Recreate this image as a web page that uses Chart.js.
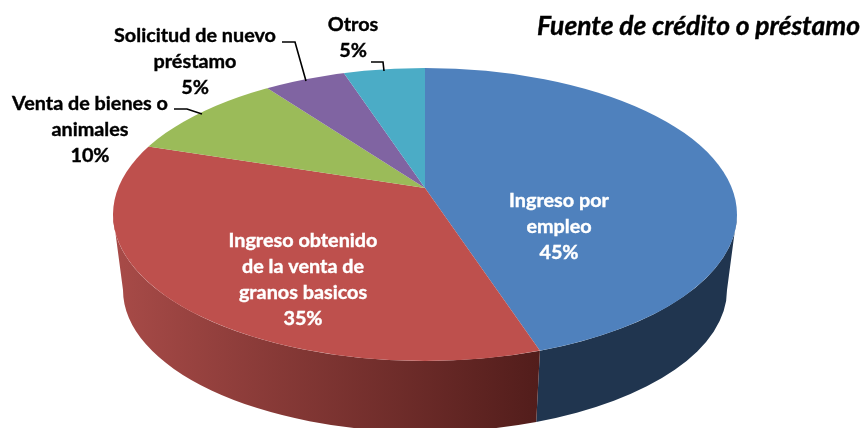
<!DOCTYPE html>
<html>
<head>
<meta charset="utf-8">
<style>
  html, body { margin: 0; padding: 0; background: #fff; }
  canvas { display: block; filter: blur(0.4px); }
</style>
<script src="https://cdn.jsdelivr.net/npm/chart.js@4/dist/chart.umd.js"></script>
</head>
<body>
<canvas id="PieChart" width="864" height="428"></canvas>
<script>
// data
const chartTitle = 'Fuente de crédito o préstamo';
const categories = ['Ingreso por empleo', 'Ingreso obtenido de la venta de granos basicos', 'Venta de bienes o animales', 'Solicitud de nuevo préstamo', 'Otros'];
const values = [45, 35, 10, 5, 5];
const labelLines = [
    ['Ingreso por', 'empleo'],
    ['Ingreso obtenido', 'de la venta de', 'granos basicos'],
    ['Venta de bienes o', 'animales'],
    ['Solicitud de nuevo', 'préstamo'],
    ['Otros']
];

// colours
const sliceColors = ['#4f81bd', '#be504d', '#9bbb59', '#8064a2', '#4bacc6'];
const sideColors = [['#1e3048', '#20354f'], ['#a84b48', '#521d1b'], ['#5d7035', '#5d7035'], ['#4c3c61', '#4c3c61'], ['#2d6776', '#2d6776']];
const labelColors = ['#fff', '#fff', '#000', '#000', '#000'];

// page layout of the labels (centre x, first baseline y)
const labelX = [559, 303, 90, 195, 353];
const labelY = [207, 247, 110, 42, 31];
const lineHeight = 26;
const leaders = [
    null,
    null,
    [[174, 109], [187, 109], [202, 114]],
    [[282, 42], [295, 42], [306, 81]],
    [[371, 62], [383, 62], [384, 71]]
];

// the tilted disc: top face, bottom face, and how much the slices get squashed
const topFace = {x: 425, y: 214.5, rx: 312, ry: 146.5};
const bottomFace = {x: 425, y: 290, rx: 302, ry: 142};
const squash = 0.46;

// where a slice edge leaving the apex hits the top face, as an ellipse angle
const edgeToEllipse = (apex, angle) => {
    const dx = Math.cos(angle) / topFace.rx;
    const dy = squash * Math.sin(angle) / topFace.ry;
    const oy = (apex.y - topFace.y) / topFace.ry;
    const a = dx * dx + dy * dy;
    const b = 2 * oy * dy;
    const c = oy * oy - 1;
    const s = (-b + Math.sqrt(b * b - 4 * a * c)) / (2 * a);
    return Math.atan2(oy + s * dy, s * dx);
};

const pie3d = {
    id: 'pie3d',
    beforeDatasetDraw(chart) {
        const ctx = chart.ctx;
        const arcs = chart.getDatasetMeta(0).data;
        ctx.save();

        // side wall, only where a slice reaches the front half of the disc
        arcs.forEach((arc, i) => {
            let from = edgeToEllipse(arc, arc.startAngle);
            let to = edgeToEllipse(arc, arc.endAngle);
            if (to < from) to += Math.PI * 2;
            [0, Math.PI * 2].forEach(shift => {
                const t0 = Math.max(from, shift);
                const t1 = Math.min(to, shift + Math.PI);
                if (t1 <= t0) return;
                const grad = ctx.createLinearGradient(topFace.x - topFace.rx, 0, 540, 0);
                grad.addColorStop(0, sideColors[i][0]);
                grad.addColorStop(1, sideColors[i][1]);
                ctx.fillStyle = grad;
                ctx.beginPath();
                ctx.ellipse(topFace.x, topFace.y, topFace.rx, topFace.ry, 0, t0, t1);
                ctx.ellipse(bottomFace.x, bottomFace.y, bottomFace.rx, bottomFace.ry, 0, t1, t0, true);
                ctx.closePath();
                ctx.fill();
            });
        });

        // top face: the library's arcs, flattened and cut to the ellipse
        const apex = arcs[0];
        ctx.beginPath();
        ctx.ellipse(topFace.x, topFace.y, topFace.rx, topFace.ry, 0, 0, Math.PI * 2);
        ctx.clip();
        ctx.translate(apex.x, apex.y);
        ctx.scale(1, squash);
        ctx.translate(-apex.x, -apex.y);
    },
    afterDatasetDraw(chart) {
        chart.ctx.restore();
    },
    afterDraw(chart) {
        const ctx = chart.ctx;
        ctx.save();

        ctx.font = 'italic 700 26.4px Lato';
        ctx.fillStyle = '#000';
        ctx.strokeStyle = '#000';
        ctx.lineWidth = 0.4;
        ctx.textAlign = 'right';
        ctx.fillText(chartTitle, 860, 35);
        ctx.strokeText(chartTitle, 860, 35);

        ctx.font = '700 19.8px Lato';
        ctx.textAlign = 'center';
        categories.forEach((name, i) => {
            ctx.fillStyle = labelColors[i];
            ctx.strokeStyle = labelColors[i];
            ctx.lineWidth = 0.4;
            const lines = labelLines[i].concat(values[i] + '%');
            lines.forEach((line, n) => {
                ctx.fillText(line, labelX[i], labelY[i] + n * lineHeight);
                ctx.strokeText(line, labelX[i], labelY[i] + n * lineHeight);
            });
            if (leaders[i]) {
                ctx.strokeStyle = '#000';
                ctx.lineWidth = 1.6;
                ctx.beginPath();
                leaders[i].forEach((p, n) => n ? ctx.lineTo(p[0], p[1]) : ctx.moveTo(p[0], p[1]));
                ctx.stroke();
            }
        });
        ctx.restore();
    }
};

new Chart(document.getElementById('PieChart'), {
    type: 'pie',
    data: {
        labels: categories,
        datasets: [{
            data: values,
            backgroundColor: sliceColors,
            borderWidth: 0,
            radius: 420,
            clip: false
        }]
    },
    options: {
        responsive: false,
        animation: false,
        layout: {padding: {left: 0, right: 14, top: 0, bottom: 52}},
        plugins: {legend: {display: false}, tooltip: {enabled: false}}
    },
    plugins: [pie3d]
});
</script>
</body>
</html>
